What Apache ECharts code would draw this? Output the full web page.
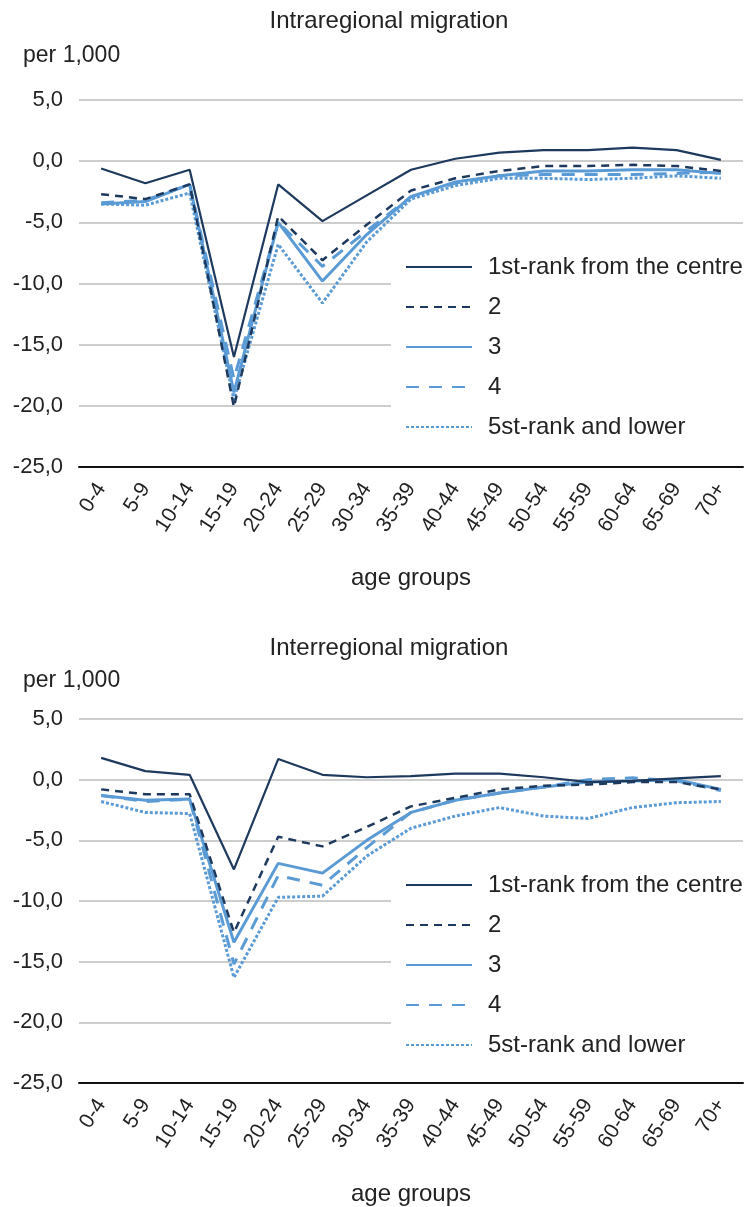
<!DOCTYPE html>
<html>
<head>
<meta charset="utf-8">
<script src="https://cdn.jsdelivr.net/npm/echarts@6/dist/echarts.min.js"></script>
<style>
html,body{margin:0;padding:0;background:#fff;}
#chart{width:746px;height:1207px;}
</style>
</head>
<body>
<div id="chart"></div>
<script>
const ageGroups = ['0-4','5-9','10-14','15-19','20-24','25-29','30-34','35-39','40-44','45-49','50-54','55-59','60-64','65-69','70+'];
const seriesNames = ['1st-rank from the centre','2','3','4','5st-rank and lower'];
const yTicks = [-25, -20, -15, -10, -5, 0, 5];

// Intraregional migration (per 1,000)
const intraRank1 = [-0.6, -1.8, -0.7, -16.0, -1.9, -4.9, -2.8, -0.7, 0.2, 0.7, 0.9, 0.9, 1.1, 0.9, 0.1];
const intraRank2 = [-2.7, -3.1, -1.9, -20.1, -4.5, -8.1, -5.2, -2.4, -1.4, -0.8, -0.4, -0.4, -0.3, -0.4, -0.8];
const intraRank3 = [-3.5, -3.3, -1.9, -18.9, -5.0, -9.8, -6.0, -2.9, -1.7, -1.2, -0.8, -0.8, -0.7, -0.7, -1.0];
const intraRank4 = [-3.4, -3.2, -1.9, -17.8, -5.0, -8.6, -5.7, -2.9, -1.8, -1.2, -1.1, -1.1, -1.1, -1.0, -0.9];
const intraRank5 = [-3.5, -3.6, -2.6, -19.5, -6.8, -11.6, -6.6, -3.1, -2.0, -1.4, -1.4, -1.5, -1.4, -1.2, -1.4];

// Interregional migration (per 1,000)
const interRank1 = [1.8, 0.7, 0.4, -7.4, 1.7, 0.4, 0.2, 0.3, 0.5, 0.5, 0.2, -0.2, -0.1, 0.1, 0.3];
const interRank2 = [-0.8, -1.2, -1.2, -12.6, -4.7, -5.5, -3.9, -2.2, -1.5, -0.8, -0.5, -0.4, -0.2, -0.2, -0.8];
const interRank3 = [-1.3, -1.7, -1.6, -13.4, -6.9, -7.7, -5.0, -2.7, -1.7, -1.1, -0.6, -0.2, -0.1, 0.0, -0.8];
const interRank4 = [-1.3, -1.8, -1.6, -15.2, -7.9, -8.7, -5.6, -2.7, -1.7, -1.1, -0.6, 0.0, 0.15, -0.1, -0.9];
const interRank5 = [-1.8, -2.7, -2.8, -16.3, -9.7, -9.6, -6.3, -4.0, -3.0, -2.3, -3.0, -3.2, -2.3, -1.9, -1.8];

const FONT = '"Liberation Sans", Arial, sans-serif';
const DARK = '#1d3a5e';
const LIGHT = '#5b9bd5';
const TXT = '#222';

const styles = [
  {color: DARK, width: 2.2, type: 'solid'},
  {color: DARK, width: 2.5, type: [8, 6]},
  {color: LIGHT, width: 3, type: 'solid'},
  {color: LIGHT, width: 3, type: [13, 10]},
  {color: LIGHT, width: 3, type: [3, 2]}
];

const panels = [
  {title: 'Intraregional migration', data: [intraRank1, intraRank2, intraRank3, intraRank4, intraRank5], top: 100, titleTop: 4, unitTop: 39, legendTop: 245},
  {title: 'Interregional migration', data: [interRank1, interRank2, interRank3, interRank4, interRank5], top: 719, titleTop: 631, unitTop: 664, legendTop: 863}
];

const option = {
  animation: false,
  backgroundColor: '#fff',
  textStyle: {fontFamily: FONT},
  title: [],
  legend: [],
  grid: [],
  xAxis: [],
  yAxis: [],
  series: []
};

panels.forEach((p, i) => {
  option.title.push({
    text: p.title, left: 384, top: p.titleTop, textAlign: 'center',
    textStyle: {fontSize: 24, fontWeight: 'normal', color: TXT, fontFamily: FONT}
  });
  option.title.push({
    text: 'per 1,000', left: 18, top: p.unitTop,
    textStyle: {fontSize: 23, fontWeight: 'normal', color: TXT, fontFamily: FONT}
  });
  option.legend.push({
    orient: 'vertical', left: 391, top: p.legendTop,
    backgroundColor: '#fff',
    padding: [10, 20, 10, 14],
    itemWidth: 66, itemHeight: 14, itemGap: 16,
    data: seriesNames,
    itemStyle: {opacity: 0},
    textStyle: {fontSize: 24, color: TXT, fontFamily: FONT, lineHeight: 24, padding: [0, 0, 0, 11]},
    selectedMode: false
  });
  option.grid.push({left: 79, right: 3, top: p.top, height: 367});
  option.xAxis.push({
    gridIndex: i, type: 'category', data: ageGroups, boundaryGap: true,
    axisLine: {onZero: false, lineStyle: {color: '#111', width: 2}},
    axisTick: {alignWithLabel: true, length: 15, lineStyle: {color: '#111', width: 2}},
    axisLabel: {rotate: 57, interval: 0, fontSize: 21, color: TXT, margin: 18, fontFamily: FONT},
    name: 'age groups', nameLocation: 'middle', nameGap: 99,
    nameTextStyle: {fontSize: 24, color: TXT, fontFamily: FONT},
    splitLine: {show: false}
  });
  option.yAxis.push({
    gridIndex: i, type: 'value', min: yTicks[0], max: yTicks[yTicks.length - 1], interval: 5,
    axisLine: {show: false}, axisTick: {show: false},
    axisLabel: {fontSize: 22, color: TXT, margin: 16, fontFamily: FONT,
      formatter: v => v.toFixed(1).replace('.', ',')},
    splitLine: {lineStyle: {color: '#bdbdbd', width: 1.5}}
  });
  p.data.forEach((arr, k) => {
    option.series.push({
      name: seriesNames[k], type: 'line', xAxisIndex: i, yAxisIndex: i,
      data: arr, symbol: 'none', showSymbol: false,
      lineStyle: {color: styles[k].color, width: styles[k].width, type: styles[k].type},
      itemStyle: {color: styles[k].color},
      z: 2 + (4 - k)
    });
  });
});

const chart = echarts.init(document.getElementById('chart'), null, {renderer: 'canvas'});
chart.setOption(option);
</script>
</body>
</html>
